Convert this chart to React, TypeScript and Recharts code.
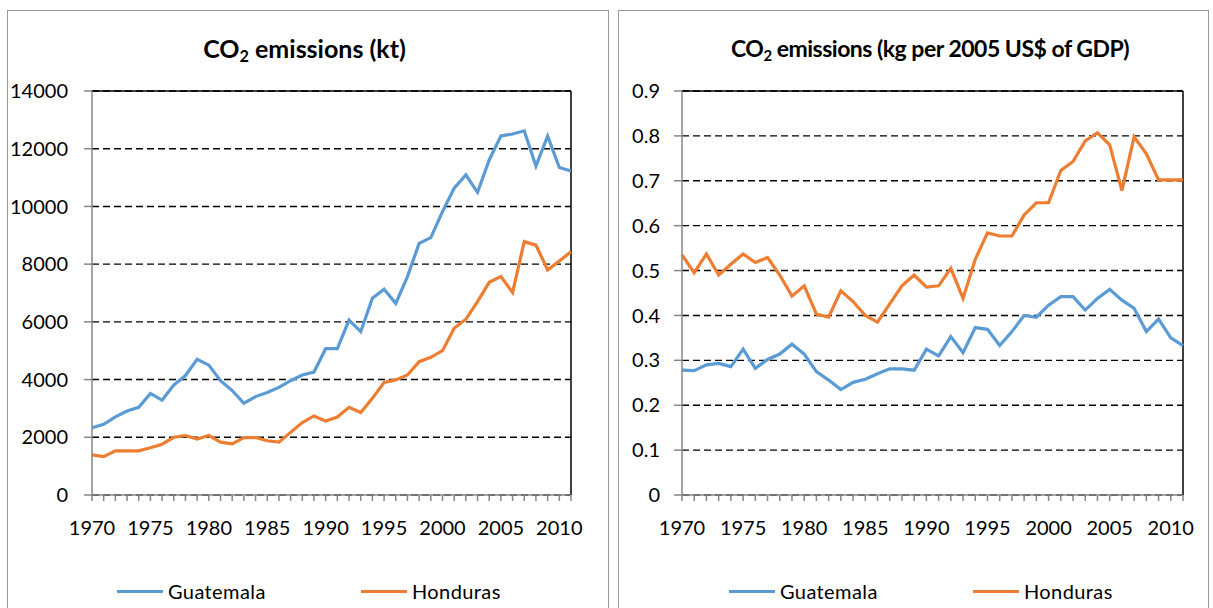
import React from "react";
import {
  LineChart,
  Line,
  XAxis,
  YAxis,
  CartesianGrid,
  ReferenceLine,
} from "recharts";

const years = [
  1970, 1971, 1972, 1973, 1974, 1975, 1976, 1977, 1978, 1979,
  1980, 1981, 1982, 1983, 1984, 1985, 1986, 1987, 1988, 1989,
  1990, 1991, 1992, 1993, 1994, 1995, 1996, 1997, 1998, 1999,
  2000, 2001, 2002, 2003, 2004, 2005, 2006, 2007, 2008, 2009,
  2010, 2011,
];
const labelYears = [1970, 1975, 1980, 1985, 1990, 1995, 2000, 2005, 2010];

const seriesNames = ["Guatemala", "Honduras"];
const seriesColors = ["#5B9BD5", "#ED7D31"];

// CO2 emissions (kt)
const guatemalaKt = [
  2330, 2450, 2710, 2910, 3040, 3520, 3290, 3810, 4140, 4700,
  4500, 3960, 3620, 3180, 3410, 3550, 3730, 3960, 4160, 4260,
  5070, 5070, 6060, 5660, 6820, 7130, 6640, 7570, 8720, 8920,
  9820, 10630, 11090, 10490, 11610, 12440, 12510, 12620, 11400, 12440,
  11350, 11230,
];
const hondurasKt = [
  1390, 1330, 1530, 1530, 1530, 1640, 1760, 2000, 2060, 1940,
  2060, 1830, 1770, 1990, 1990, 1880, 1830, 2170, 2510, 2740,
  2560, 2700, 3040, 2860, 3350, 3900, 3990, 4160, 4620, 4770,
  5000, 5780, 6090, 6700, 7370, 7570, 7020, 8780, 8660, 7800,
  8110, 8430,
];
const ktTicks = [0, 2000, 4000, 6000, 8000, 10000, 12000, 14000];

// CO2 emissions (kg per 2005 US$ of GDP)
const guatemalaGdp = [
  0.278, 0.277, 0.29, 0.293, 0.286, 0.325, 0.282, 0.302, 0.314, 0.336,
  0.314, 0.275, 0.256, 0.235, 0.251, 0.258, 0.27, 0.281, 0.281, 0.278,
  0.325, 0.31, 0.353, 0.317, 0.373, 0.369, 0.333, 0.364, 0.4, 0.396,
  0.423, 0.442, 0.442, 0.412, 0.438, 0.458, 0.434, 0.416, 0.364, 0.392,
  0.35, 0.333,
];
const hondurasGdp = [
  0.535, 0.495, 0.537, 0.49, 0.514, 0.537, 0.518, 0.529, 0.49, 0.443,
  0.466, 0.403, 0.396, 0.455, 0.431, 0.4, 0.385, 0.426, 0.466, 0.49,
  0.463, 0.466, 0.505, 0.438, 0.525, 0.584, 0.577, 0.577, 0.624, 0.651,
  0.651, 0.723, 0.743, 0.789, 0.807, 0.78, 0.678, 0.798, 0.76, 0.702,
  0.702, 0.702,
];
const gdpTicks = [0, 0.1, 0.2, 0.3, 0.4, 0.5, 0.6, 0.7, 0.8, 0.9];

const FONT = "Lato, 'Open Sans', sans-serif";
const AXIS = "#868686";

const ktData = years.map((year, i) => ({
  year,
  Guatemala: guatemalaKt[i],
  Honduras: hondurasKt[i],
}));
const gdpData = years.map((year, i) => ({
  year,
  Guatemala: guatemalaGdp[i],
  Honduras: hondurasGdp[i],
}));

function YearTick(props: any) {
  const { x, y, payload } = props;
  if (!labelYears.includes(payload.value)) return null;
  return (
    <text x={x} y={y} dy={34} textAnchor="middle" fontSize={20} fill="#000" fontFamily={FONT}>
      {payload.value}
    </text>
  );
}

function Legend({ left }: { left: number }) {
  return (
    <div style={{ position: "absolute", left, top: 579, display: "flex" }}>
      {seriesNames.map((name, i) => (
        <div key={name} style={{ width: 244, display: "flex", alignItems: "center", height: 24 }}>
          <span style={{ width: 46, height: 3, background: seriesColors[i], marginRight: 5 }} />
          <span style={{ fontSize: 20, lineHeight: "24px", letterSpacing: 0.4 }}>{name}</span>
        </div>
      ))}
    </div>
  );
}

interface PanelProps {
  left: number;
  width: number;
  yAxisWidth: number;
  tickMargin: number;
  marginRight: number;
  data: any[];
  yTicks: number[];
  format: (v: number) => string;
}

function Panel({ left, width, yAxisWidth, tickMargin, marginRight, data, yTicks, format }: PanelProps) {
  const top = yTicks[yTicks.length - 1];
  return (
    <div style={{ position: "absolute", left, top: 0 }}>
      <LineChart
        width={width}
        height={608}
        data={data}
        margin={{ top: 91, right: marginRight, bottom: 0, left: 0 }}
      >
        <CartesianGrid vertical={false} stroke="#000" strokeWidth={1.4} strokeDasharray="7 4" />
        <XAxis
          dataKey="year"
          type="number"
          domain={[1970, 2011]}
          ticks={years}
          interval={0}
          height={113}
          stroke={AXIS}
          strokeWidth={1.5}
          tickSize={6}
          tickMargin={0}
          tick={<YearTick />}
        />
        <YAxis
          domain={[0, top]}
          ticks={yTicks}
          width={yAxisWidth}
          stroke={AXIS}
          strokeWidth={1.5}
          tickSize={8}
          tickMargin={tickMargin}
          tickFormatter={format}
          tick={{ fontSize: 20, fill: "#000", fontFamily: FONT }}
        />
        <ReferenceLine y={top} stroke="#000" strokeWidth={1.5} />
        <ReferenceLine x={2011} stroke="#000" strokeWidth={1.5} />
        {seriesNames.map((name, i) => (
          <Line
            key={name}
            type="linear"
            dataKey={name}
            stroke={seriesColors[i]}
            strokeWidth={3.2}
            dot={false}
            isAnimationActive={false}
          />
        ))}
      </LineChart>
    </div>
  );
}

const titleStyle: React.CSSProperties = {
  position: "absolute",
  top: 33,
  textAlign: "center",
  fontWeight: 700,
  fontSize: 25,
  lineHeight: "30px",
};
const subStyle: React.CSSProperties = { fontSize: "0.65em", verticalAlign: "-0.25em", lineHeight: 0 };

export default function App() {
  return (
    <div
      style={{
        position: "absolute",
        left: 0,
        top: 0,
        width: 1213,
        height: 608,
        overflow: "hidden",
        background: "#fff",
        fontFamily: FONT,
        color: "#000",
      }}
    >
      <div style={{ position: "absolute", left: 7, top: 10, width: 600, height: 640, border: "1px solid #9a9a9a" }} />
      <div style={{ position: "absolute", left: 618, top: 10, width: 589, height: 640, border: "1px solid #9a9a9a" }} />

      <div style={{ ...titleStyle, left: 0, width: 609 }}>
        CO<span style={subStyle}>2</span> emissions (kt)
      </div>
      <div style={{ ...titleStyle, left: 610, width: 640, fontSize: 23, letterSpacing: -0.5 }}>
        CO<span style={subStyle}>2</span> emissions (kg per 2005 US$ of GDP)
      </div>

      <Panel
        left={0}
        width={608}
        yAxisWidth={92}
        tickMargin={16}
        marginRight={37}
        data={ktData}
        yTicks={ktTicks}
        format={(v) => String(v)}
      />
      <Panel
        left={610}
        width={603}
        yAxisWidth={72}
        tickMargin={14}
        marginRight={30}
        data={gdpData}
        yTicks={gdpTicks}
        format={(v) => (v === 0 ? "0" : v.toFixed(1))}
      />

      <Legend left={117} />
      <Legend left={729} />
    </div>
  );
}
